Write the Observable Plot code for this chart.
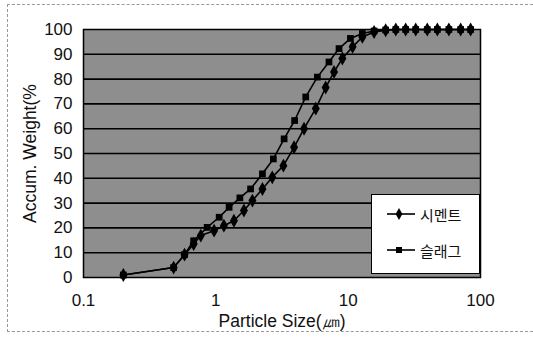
<!DOCTYPE html>
<html><head><meta charset="utf-8">
<script src="https://cdn.jsdelivr.net/npm/d3@7"></script>
<script src="https://cdn.jsdelivr.net/npm/@observablehq/plot@0.6"></script>
<style>
html,body{margin:0;padding:0;background:#fff;}
#wrap{position:relative;width:533px;height:337px;overflow:hidden;font-family:"Liberation Sans",Arial,sans-serif;}
#border{position:absolute;left:7px;top:4px;width:540px;height:326px;border-top:1px dashed #999;border-left:1px dashed #999;border-bottom:1px dashed #999;}
#legend{position:absolute;left:371px;top:194px;width:107px;height:78px;background:#fff;border:1px solid #000;font-family:"Noto Sans CJK KR",sans-serif;font-size:15px;color:#111;}
#legend .row{position:absolute;left:14px;display:flex;align-items:center;gap:4px;}
</style></head>
<body><div id="wrap"><div id="border"></div><div id="chart"></div><div id="legend"></div></div>
<script>
const seriesNames = ["시멘트", "슬래그"];
const cementSize = [0.20, 0.48, 0.58, 0.68, 0.77, 0.97, 1.15, 1.37, 1.63, 1.89, 2.25, 2.67, 3.24, 3.90, 4.64, 5.69, 6.76, 7.82, 9.04, 10.8, 12.8, 15.7, 19.2, 22.9, 27.2, 32.4, 39.6, 47.2, 57.7, 70.8, 84.2];
const cementPass = [1.0, 4.0, 9.2, 13.5, 16.9, 18.9, 20.9, 22.9, 27.0, 31.0, 35.7, 40.4, 45.1, 52.5, 60.0, 68.1, 76.6, 82.9, 88.3, 93.0, 97.0, 99.0, 99.7, 100, 100, 100, 100, 100, 100, 100, 100];
const slagSize = [0.20, 0.48, 0.58, 0.68, 0.86, 1.06, 1.26, 1.52, 1.83, 2.25, 2.72, 3.28, 3.94, 4.78, 5.85, 7.16, 8.53, 10.4, 12.8, 15.7, 19.2, 22.9, 27.2, 32.4, 39.6, 47.2, 57.7, 70.8, 84.2];
const slagPass = [1.0, 4.0, 9.2, 14.8, 20.2, 24.3, 28.3, 32.1, 35.7, 41.8, 47.8, 55.9, 63.3, 72.8, 80.8, 86.9, 92.3, 96.4, 98.4, 99.4, 99.8, 100, 100, 100, 100, 100, 100, 100, 100];
const xTicks = [0.1, 1, 10, 100];
const yTicks = [0, 10, 20, 30, 40, 50, 60, 70, 80, 90, 100];
const xLabel = "Particle Size(㎛)";
const yLabel = "Accum. Weight(%";

const cement = cementSize.map((s, i) => ({size: s, pass: cementPass[i], series: seriesNames[0]}));
const slag = slagSize.map((s, i) => ({size: s, pass: slagPass[i], series: seriesNames[1]}));

const chart = Plot.plot({
  width: 533, height: 337,
  marginLeft: 83, marginRight: 53, marginTop: 29, marginBottom: 60,
  style: {fontFamily: '"Liberation Sans", Arial, sans-serif', fontSize: "17px", color: "#111", background: "transparent", overflow: "visible"},
  x: {type: "log", domain: [0.1, 100], ticks: xTicks, tickFormat: d => String(d), tickSize: 0, tickPadding: 16, label: null},
  y: {domain: [0, 100], ticks: yTicks, tickSize: 0, tickPadding: 11, label: null},
  marks: [
    Plot.frame({fill: "#8e8e8e"}),
    Plot.ruleY(yTicks.slice(1, -1), {stroke: "#000", strokeWidth: 1.6}),
    Plot.line(slag, {x: "size", y: "pass", stroke: "#000", strokeWidth: 1.6}),
    Plot.line(cement, {x: "size", y: "pass", stroke: "#000", strokeWidth: 1.6}),
    Plot.dot(slag, {x: "size", y: "pass", symbol: "square", r: 3.8, fill: "#000"}),
    Plot.dot(cement, {x: "size", y: "pass", symbol: "diamond", r: 4.2, fill: "#000"}),
    Plot.frame({stroke: "#000", strokeWidth: 1.5}),
    Plot.axisY({ticks: yTicks, tickSize: 0, tickPadding: 11, fontSize: 17, label: null}),
    Plot.axisX({ticks: xTicks, tickFormat: d => String(d), tickSize: 0, tickPadding: 16, fontSize: 17, label: null}),
    Plot.text([xLabel], {frameAnchor: "bottom", dy: 49, fontSize: 17.5, fill: "#111"}),
    Plot.text([yLabel], {frameAnchor: "left", dx: -53, rotate: -90, textAnchor: "middle", fontSize: 17.5, fill: "#111"})
  ]
});
document.getElementById("chart").appendChild(chart);

// legend
const legend = document.getElementById("legend");
const symbols = [d3.symbolDiamond, d3.symbolSquare];
seriesNames.forEach((name, i) => {
  const row = document.createElement("div");
  row.className = "row";
  row.style.top = (i === 0 ? 8 : 44) + "px";
  row.style.height = "22px";
  const svg = d3.create("svg").attr("width", 30).attr("height", 16);
  svg.append("line").attr("x1", 1).attr("x2", 29).attr("y1", 8).attr("y2", 8).attr("stroke", "#000").attr("stroke-width", 1.6);
  svg.append("path").attr("d", d3.symbol(symbols[i], i === 0 ? 40 : 36)()).attr("transform", "translate(13,8)").attr("fill", "#000");
  row.appendChild(svg.node());
  const t = document.createElement("span");
  t.textContent = name;
  row.appendChild(t);
  legend.appendChild(row);
});
</script></body></html>
